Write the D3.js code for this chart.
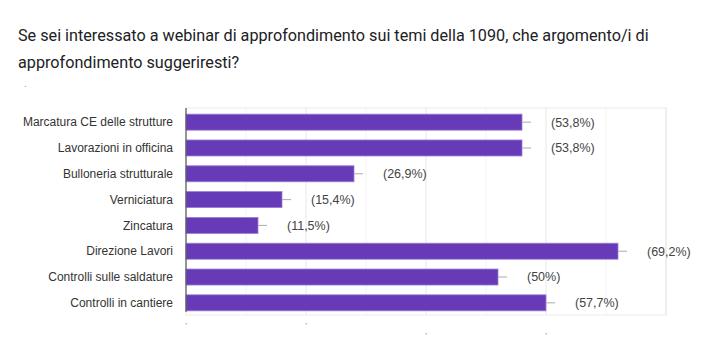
<!DOCTYPE html>
<html>
<head>
<meta charset="utf-8">
<script src="https://cdn.jsdelivr.net/npm/d3@7"></script>
<style>
  html, body { margin: 0; padding: 0; background: #fff; }
  svg { display: block; }
</style>
</head>
<body>
<svg id="chart" width="717" height="348"></svg>
<script>
// Survey answers: number of respondents (out of 26) per suggested topic
const categories = [
  "Marcatura CE delle strutture",
  "Lavorazioni in officina",
  "Bulloneria strutturale",
  "Verniciatura",
  "Zincatura",
  "Direzione Lavori",
  "Controlli sulle saldature",
  "Controlli in cantiere"
];
const counts = [14, 14, 7, 4, 3, 18, 13, 15];
const percentLabels = ["(53,8%)", "(53,8%)", "(26,9%)", "(15,4%)", "(11,5%)", "(69,2%)", "(50%)", "(57,7%)"];
const majorTicks = [0, 5, 10, 15, 20];
const minorTicks = [2.5, 7.5, 12.5, 17.5];

const titleLines = [
  "Se sei interessato a webinar di approfondimento sui temi della 1090, che argomento/i di",
  "approfondimento suggeriresti?"
];

const svg = d3.select("#chart");

// Title
svg.append("g")
  .selectAll("text")
  .data(titleLines)
  .join("text")
  .attr("x", 18)
  .attr("y", (d, i) => 41 + i * 27)
  .attr("font-family", "Roboto, 'Noto Sans', sans-serif")
  .attr("font-size", 16.2)
  .attr("fill", "#202124")
  .text(d => d);

svg.append("text")
  .attr("x", 24)
  .attr("y", 87)
  .attr("font-family", "Roboto, sans-serif")
  .attr("font-size", 10)
  .attr("fill", "#999")
  .text(".");

// Plot area
const plot = { left: 186, right: 666, top: 108, bottom: 315 };

const x = d3.scaleLinear().domain([0, 20]).range([plot.left, plot.right]);
const y = d3.scaleBand().domain(categories).range([plot.top + 1, plot.bottom + 1]).paddingInner(0.38).paddingOuter(0.2);

// Frame
svg.append("rect")
  .attr("x", plot.left)
  .attr("y", plot.top)
  .attr("width", plot.right - plot.left)
  .attr("height", plot.bottom - plot.top)
  .attr("fill", "none")
  .attr("stroke", "#ececec");

// Grid lines
svg.append("g")
  .selectAll("line.minor")
  .data(minorTicks)
  .join("line")
  .attr("x1", d => x(d)).attr("x2", d => x(d))
  .attr("y1", plot.top).attr("y2", plot.bottom)
  .attr("stroke", "#f3f3f3");

svg.append("g")
  .selectAll("line.major")
  .data(majorTicks.slice(1))
  .join("line")
  .attr("x1", d => x(d)).attr("x2", d => x(d))
  .attr("y1", plot.top).attr("y2", plot.bottom)
  .attr("stroke", "#e8e8e8");

// Tick specks under the plot
svg.append("g")
  .selectAll("rect")
  .data(majorTicks.slice(0, 4))
  .join("rect")
  .attr("x", d => x(d) - 0.5)
  .attr("y", (d, i) => i < 2 ? 323 : 333)
  .attr("width", 1.5)
  .attr("height", 1.5)
  .attr("fill", "#bbb");

// Category labels
svg.append("g")
  .selectAll("text")
  .data(categories)
  .join("text")
  .attr("x", 173)
  .attr("y", d => y(d) + y.bandwidth() / 2)
  .attr("dy", "0.35em")
  .attr("text-anchor", "end")
  .attr("font-family", "Arial, 'Liberation Sans', sans-serif")
  .attr("font-size", 12)
  .attr("fill", "#333")
  .text(d => d);

// Bars
svg.append("g")
  .selectAll("rect")
  .data(categories)
  .join("rect")
  .attr("x", x(0))
  .attr("y", d => y(d))
  .attr("width", (d, i) => x(counts[i]) - x(0))
  .attr("height", y.bandwidth())
  .attr("fill", "#673ab7")
  .attr("stroke", "#9b7fd6")
  .attr("stroke-width", 0.8);

// Whiskers after bar ends
svg.append("g")
  .selectAll("line")
  .data(categories)
  .join("line")
  .attr("x1", (d, i) => x(counts[i]))
  .attr("x2", (d, i) => x(counts[i]) + 9)
  .attr("y1", d => y(d) + y.bandwidth() / 2)
  .attr("y2", d => y(d) + y.bandwidth() / 2)
  .attr("stroke", "#aaa")
  .attr("stroke-width", 1);

// Value labels
svg.append("g")
  .selectAll("text")
  .data(categories)
  .join("text")
  .attr("x", (d, i) => x(counts[i]) + 29)
  .attr("y", d => y(d) + y.bandwidth() / 2)
  .attr("dy", "0.35em")
  .attr("font-family", "Arial, 'Liberation Sans', sans-serif")
  .attr("font-size", 12.5)
  .attr("fill", "#444")
  .text((d, i) => percentLabels[i]);

// Axis line
svg.append("line")
  .attr("x1", plot.left).attr("x2", plot.left)
  .attr("y1", plot.top).attr("y2", plot.bottom - 3)
  .attr("stroke", "#555")
  .attr("stroke-width", 1.2);
</script>
</body>
</html>
